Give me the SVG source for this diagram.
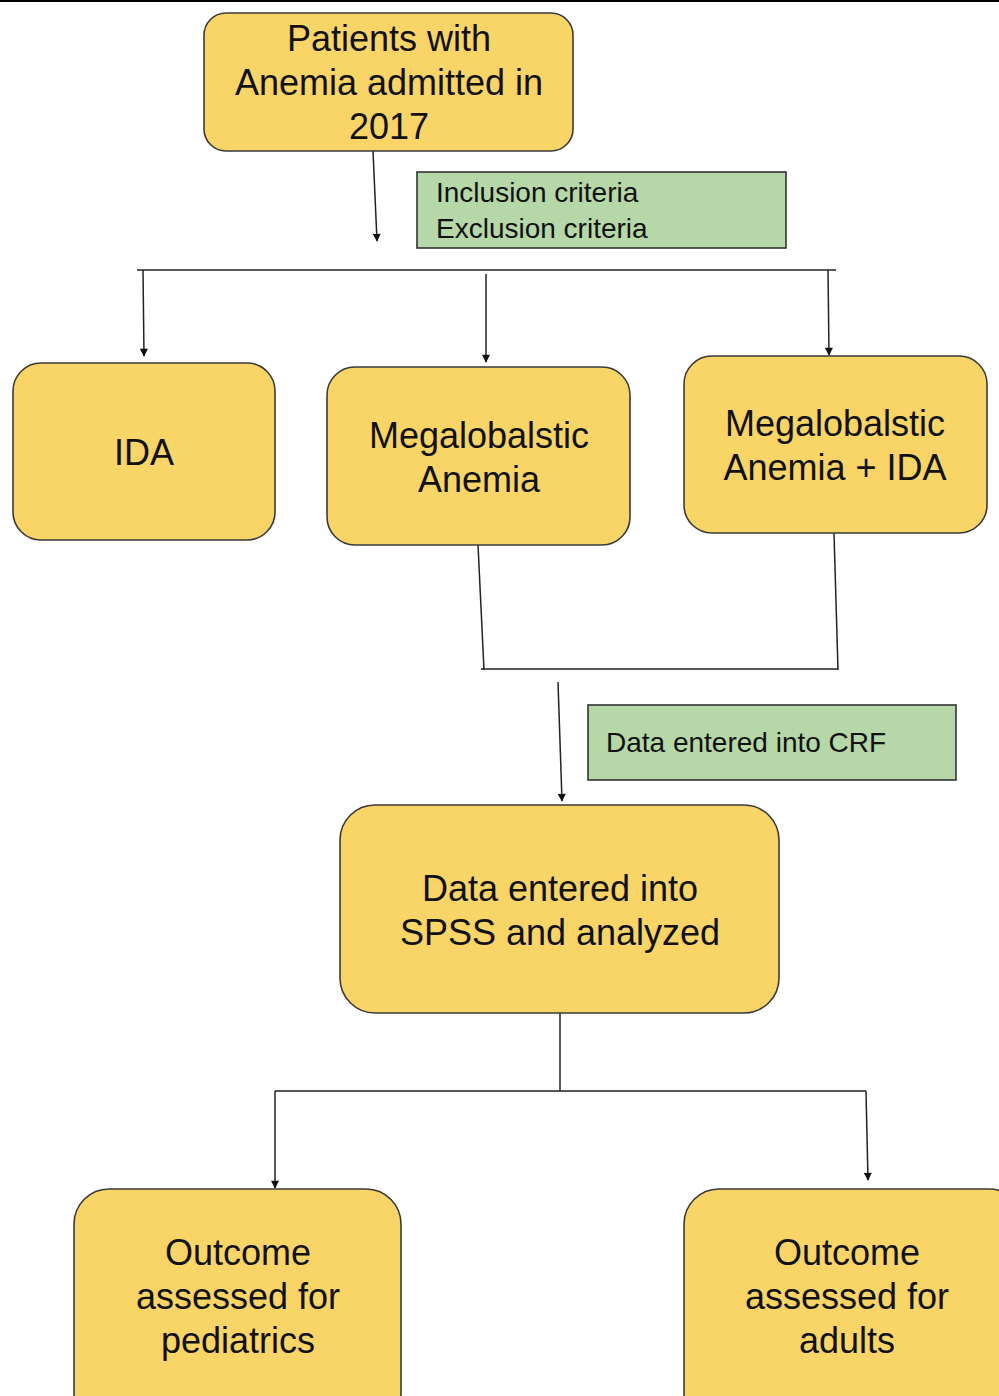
<svg xmlns="http://www.w3.org/2000/svg" width="999" height="1396" viewBox="0 0 999 1396">
<defs>
<marker id="ah" viewBox="0 0 10 10" refX="9" refY="5" markerWidth="9" markerHeight="8" orient="auto" markerUnits="userSpaceOnUse"><path d="M0,0 L10,5 L0,10 z" fill="#111"/></marker>
<style>
.n{fill:#f9d466;stroke:#3a3a3a;stroke-width:1.6}
.g{fill:#b6d7a8;stroke:#333;stroke-width:1.6}
.t{font-family:"Liberation Sans",Arial,sans-serif;font-size:36px;fill:#111;text-anchor:middle}
.s{font-family:"Liberation Sans",Arial,sans-serif;font-size:28px;fill:#111}
.c{fill:none;stroke:#222;stroke-width:1.5}
.a{fill:none;stroke:#222;stroke-width:1.5;marker-end:url(#ah)}
</style>
</defs>
<rect width="999" height="1396" fill="#fff"/>
<rect x="0" y="0" width="999" height="2" fill="#000"/>
<g id="connectors">
<line class="a" x1="373" y1="151" x2="377" y2="241"/>
<line class="c" x1="137" y1="270" x2="836" y2="270"/>
<line class="a" x1="143" y1="270" x2="144" y2="356"/>
<line class="a" x1="486" y1="274" x2="486" y2="362"/>
<line class="a" x1="828" y1="270" x2="829" y2="355"/>
<line class="c" x1="478" y1="545" x2="484" y2="670"/>
<line class="c" x1="834" y1="533" x2="838" y2="670"/>
<line class="c" x1="481" y1="669" x2="838" y2="669"/>
<line class="a" x1="558" y1="682" x2="562" y2="801"/>
<line class="c" x1="560" y1="1013" x2="560" y2="1091"/>
<line class="c" x1="275" y1="1091" x2="866" y2="1091"/>
<line class="a" x1="275" y1="1091" x2="275" y2="1188"/>
<line class="a" x1="866" y1="1091" x2="868" y2="1180"/>
</g>
<g id="patients">
<rect class="n" x="204" y="13" width="369" height="138" rx="22"/>
<text class="t" x="389" y="51">Patients with</text>
<text class="t" x="389" y="95">Anemia admitted in</text>
<text class="t" x="389" y="139">2017</text>
</g>
<g id="criteria">
<rect class="g" x="417" y="172" width="369" height="76"/>
<text class="s" x="436" y="202">Inclusion criteria</text>
<text class="s" x="436" y="238">Exclusion criteria</text>
</g>
<g id="ida">
<rect class="n" x="13" y="363" width="262" height="177" rx="28"/>
<text class="t" x="144" y="465">IDA</text>
</g>
<g id="mega">
<rect class="n" x="327" y="367" width="303" height="178" rx="28"/>
<text class="t" x="479" y="448">Megalobalstic</text>
<text class="t" x="479" y="492">Anemia</text>
</g>
<g id="megaida">
<rect class="n" x="684" y="356" width="303" height="177" rx="28"/>
<text class="t" x="835" y="436">Megalobalstic</text>
<text class="t" x="835" y="480">Anemia + IDA</text>
</g>
<g id="crf">
<rect class="g" x="588" y="705" width="368" height="75"/>
<text class="s" x="606" y="752">Data entered into CRF</text>
</g>
<g id="spss">
<rect class="n" x="340" y="805" width="439" height="208" rx="35"/>
<text class="t" x="560" y="901">Data entered into</text>
<text class="t" x="560" y="945">SPSS and analyzed</text>
</g>
<g id="pediatrics">
<rect class="n" x="74" y="1189" width="327" height="240" rx="35"/>
<text class="t" x="238" y="1265">Outcome</text>
<text class="t" x="238" y="1309">assessed for</text>
<text class="t" x="238" y="1353">pediatrics</text>
</g>
<g id="adults">
<rect class="n" x="684" y="1189" width="340" height="240" rx="35"/>
<text class="t" x="847" y="1265">Outcome</text>
<text class="t" x="847" y="1309">assessed for</text>
<text class="t" x="847" y="1353">adults</text>
</g>
</svg>
